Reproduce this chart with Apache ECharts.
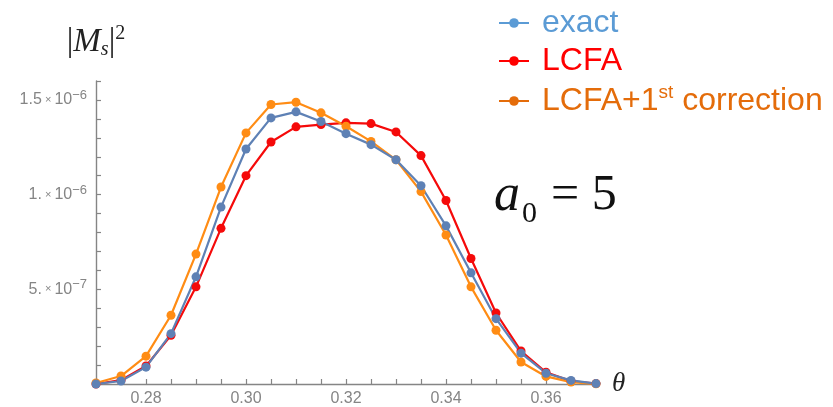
<!DOCTYPE html>
<html>
<head>
<meta charset="utf-8">
<script src="https://cdn.jsdelivr.net/npm/echarts@6/dist/echarts.min.js"></script>
<style>
  html, body { margin: 0; padding: 0; background: #fff; }
  #chart { width: 833px; height: 407px; }
</style>
</head>
<body>
<div id="chart"></div>
<script>
// theta values (x) and |Ms|^2 in units of 1e-7
const theta = [0.27, 0.275, 0.28, 0.285, 0.29, 0.295, 0.30, 0.305, 0.31, 0.315, 0.32,
  0.325, 0.33, 0.335, 0.34, 0.345, 0.35, 0.355, 0.36, 0.365, 0.37]
const exact = [0, 0.16, 0.89, 2.66, 5.66, 9.34, 12.41, 14.05, 14.37, 13.86, 13.22,
  12.64, 11.84, 10.47, 8.35, 5.87, 3.45, 1.63, 0.57, 0.19, 0.02]
const lcfa = [0, 0.2, 0.95, 2.57, 5.13, 8.22, 11.0, 12.78, 13.58, 13.7, 13.79,
  13.75, 13.31, 12.06, 9.69, 6.63, 3.75, 1.74, 0.62, 0.15, 0.02]
const lcfaCorr = [0.05, 0.42, 1.47, 3.63, 6.86, 10.4, 13.26, 14.76, 14.88, 14.32, 13.61,
  12.81, 11.84, 10.16, 7.87, 5.13, 2.84, 1.16, 0.4, 0.1, 0.01]

const xLabels = [0.28, 0.30, 0.32, 0.34, 0.36]
const yLabelValues = [5e-7, 1e-6, 1.5e-6]
const yLabelMant = ['5.', '1.', '1.5']
const yLabelExp = ['\u22127', '\u22126', '\u22126']

const unit = 1e-7
const gray = '#858585'

function pairs(arr) {
  return theta.map((t, i) => [t, arr[i] * unit])
}

const chart = echarts.init(document.getElementById('chart'))

chart.setOption({
  animation: false,
  grid: { left: 96, right: 237, top: 81, bottom: 23 },
  title: {
    text: '{a|a}{sub|0}{eq|= 5}',
    left: 489,
    top: 164,
    textStyle: {
      fontWeight: 'normal',
      rich: {
        a: { fontFamily: 'Liberation Serif', fontStyle: 'italic', fontWeight: 'normal', fontSize: 52, color: '#111', lineHeight: 54, verticalAlign: 'middle' },
        sub: { fontFamily: 'Liberation Serif', fontWeight: 'normal', fontSize: 30, color: '#111', lineHeight: 30, verticalAlign: 'bottom', padding: [0, 0, -6, 2] },
        eq: { fontFamily: 'Liberation Serif', fontWeight: 'normal', fontSize: 50, color: '#111', lineHeight: 54, verticalAlign: 'middle', padding: [0, 0, 0, 14] }
      }
    }
  },
  legend: {
    orient: 'vertical',
    left: 493,
    top: 2,
    itemWidth: 30,
    itemHeight: 12,
    itemGap: 6,
    data: [
      { name: 'exact', textStyle: { color: '#5b9bd5' }, itemStyle: { color: '#5b9bd5' }, lineStyle: { color: '#5b9bd5' } },
      { name: 'LCFA', textStyle: { color: '#ff0000' }, itemStyle: { color: '#ff0000' }, lineStyle: { color: '#ff0000' } },
      { name: 'LCFA+1st correction', textStyle: { color: '#e46c0a' }, itemStyle: { color: '#e46c0a' }, lineStyle: { color: '#e46c0a' } }
    ],
    formatter: function (name) {
      if (name === 'LCFA+1st correction') return '{m|LCFA+1}{sup|st}{m| correction}'
      return '{m|' + name + '}'
    },
    textStyle: {
      fontFamily: 'Liberation Sans',
      fontSize: 32,
      padding: [0, 0, 0, 8],
      rich: {
        m: { fontFamily: 'Liberation Sans', fontSize: 32, lineHeight: 36, verticalAlign: 'middle' },
        sup: { fontFamily: 'Liberation Sans', fontSize: 19, lineHeight: 19, verticalAlign: 'top' }
      }
    }
  },
  xAxis: {
    type: 'value',
    min: 0.27,
    max: 0.37,
    interval: 0.005,
    name: '\u03b8',
    nameLocation: 'end',
    nameGap: 16,
    nameTextStyle: { fontFamily: 'Liberation Serif', fontStyle: 'italic', fontSize: 27, color: '#222' },
    axisLine: { lineStyle: { color: gray, width: 1.4 } },
    axisTick: { inside: true, length: 5, lineStyle: { color: gray, width: 1.2 } },
    splitLine: { show: false },
    axisLabel: {
      margin: 7,
      fontFamily: 'Liberation Sans',
      fontSize: 16,
      color: gray,
      formatter: function (v) {
        const hit = xLabels.find((x) => Math.abs(x - v) < 1e-6)
        return hit === undefined ? '' : hit.toFixed(2)
      }
    }
  },
  yAxis: {
    type: 'value',
    min: 0,
    max: 1.6e-6,
    interval: 1e-7,
    name: '|{m|M}{sub|s}|{sup|2}',
    nameLocation: 'end',
    nameGap: 21,
    nameTextStyle: {
      fontFamily: 'Liberation Serif',
      fontSize: 33,
      color: '#222',
      rich: {
        m: { fontFamily: 'Liberation Serif', fontStyle: 'italic', fontSize: 33, color: '#222', lineHeight: 36, verticalAlign: 'middle' },
        sub: { fontFamily: 'Liberation Serif', fontStyle: 'italic', fontSize: 20, color: '#222', lineHeight: 20, verticalAlign: 'bottom' },
        sup: { fontFamily: 'Liberation Serif', fontSize: 20, color: '#222', lineHeight: 20, verticalAlign: 'top' }
      }
    },
    axisLine: { show: true, lineStyle: { color: gray, width: 1.4 } },
    axisTick: { show: true, inside: true, length: 5, lineStyle: { color: gray, width: 1.2 } },
    splitLine: { show: false },
    axisLabel: {
      margin: 9,
      color: gray,
      formatter: function (v) {
        const i = yLabelValues.findIndex((y) => Math.abs(y - v) < 1e-12)
        if (i < 0) return ''
        return '{n|' + yLabelMant[i] + '}{x| \u00d7 }{n|10}{sup|' + yLabelExp[i] + '}'
      },
      rich: {
        n: { fontFamily: 'Liberation Sans', fontSize: 16, color: gray, lineHeight: 22, verticalAlign: 'middle' },
        x: { fontFamily: 'Liberation Sans', fontSize: 11, color: gray, lineHeight: 22, verticalAlign: 'middle' },
        sup: { fontFamily: 'Liberation Sans', fontSize: 13, color: gray, lineHeight: 13, verticalAlign: 'top' }
      }
    }
  },
  series: [{
    name: 'LCFA',
    type: 'line',
    data: pairs(lcfa),
    symbol: 'circle',
    symbolSize: 9,
    clip: false,
    lineStyle: { color: '#f50a0a', width: 2.2 },
    itemStyle: { color: '#f50a0a' }
  }, {
    name: 'LCFA+1st correction',
    type: 'line',
    data: pairs(lcfaCorr),
    symbol: 'circle',
    symbolSize: 9,
    clip: false,
    lineStyle: { color: '#ff8c14', width: 2.2 },
    itemStyle: { color: '#ff8c14' }
  }, {
    name: 'exact',
    type: 'line',
    data: pairs(exact),
    symbol: 'circle',
    symbolSize: 9,
    clip: false,
    lineStyle: { color: '#5e81b5', width: 2.2 },
    itemStyle: { color: '#5e81b5' }
  }]
})
</script>
</body>
</html>
